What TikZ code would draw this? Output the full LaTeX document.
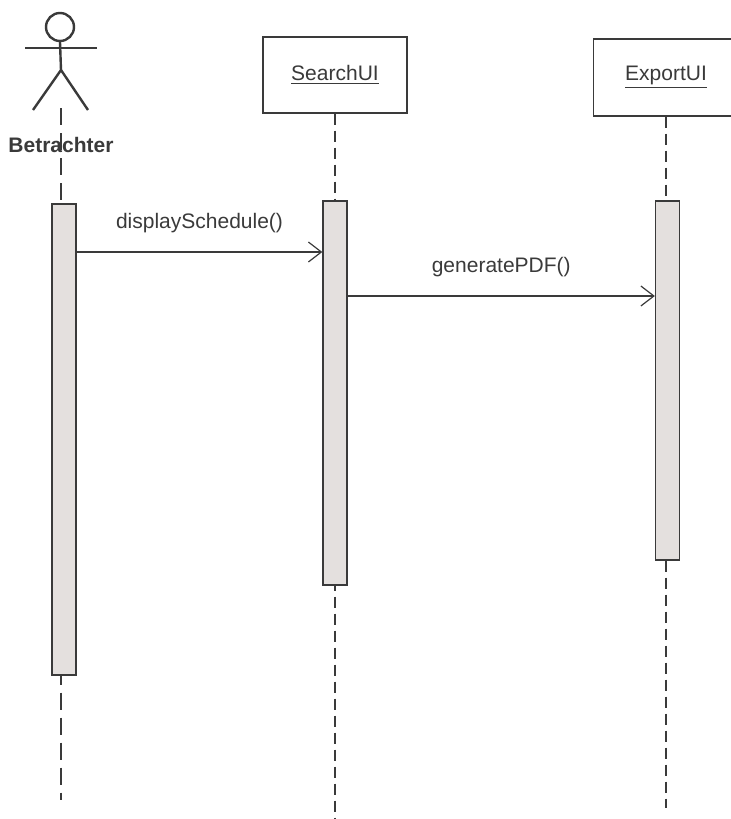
\documentclass[tikz,border=0pt]{standalone}
\usepackage{fontspec}
\setmainfont{Liberation Sans}
\usepackage{tikz}
\usetikzlibrary{arrows.meta}
\definecolor{linegray}{HTML}{3A3A3A}
\definecolor{bargray}{HTML}{E4E0DE}

\begin{document}
\begin{tikzpicture}[x=0.5pt, y=-0.5pt,
		font=\fontsize{10.5}{12.6}\selectfont, text=linegray,
		box_style/.style={rectangle,draw=linegray,line width=0.55pt,fill=white,inner sep=0pt},
		bar_style/.style={rectangle,draw=linegray,line width=0.65pt,fill=bargray,inner sep=0pt,minimum width=12pt},
		life_style/.style={draw=linegray,line width=0.6pt,dash pattern=on 5.5pt off 3pt},
		actor_life_style/.style={draw=linegray,line width=1pt,dash pattern=on 8.5pt off 4pt},
		figure_style/.style={draw=linegray,line width=1.2pt},
		msg_style/.style={draw=linegray,line width=0.6pt,-{Straight Barb[length=6.5pt,width=10pt]}}]

		\useasboundingbox (0,0) rectangle (731,819);
		\clip (0,0) rectangle (731,819);

		% actor
		\node[circle,figure_style,minimum size=14pt,inner sep=0pt] (head) at (60,27) {};
		\coordinate (neck) at (61,41);
		\coordinate (hip) at (61,70);
		\coordinate (handl) at (25,48);
		\coordinate (handr) at (97,48);
		\coordinate (footl) at (33,110);
		\coordinate (footr) at (88,110);
		\draw[figure_style] (head.south) -- (hip);
		\draw[figure_style] (handl) -- (handr);
		\draw[figure_style] (footl) -- (hip) -- (footr);
		\node[font=\fontsize{10.5}{12.6}\selectfont\bfseries] (betrachter) at (61,145) {Betrachter};

		% objects
		\node[box_style,minimum width=72pt,minimum height=38pt] (searchui) at (335,75) {\underline{SearchUI}};
		\node[box_style,minimum width=72.5pt,minimum height=38.5pt] (exportui) at (666,77.5) {\underline{ExportUI}};

		% activation bars
		\node[bar_style,minimum height=235.5pt] (bar_a) at (64,439.5) {};
		\node[bar_style,minimum height=192pt] (bar_s) at (335,393) {};
		\node[bar_style,minimum height=179.5pt] (bar_e) at (667.5,380.5) {};

		% lifelines
		\coordinate (top_a) at (61,108);
		\coordinate (end_a) at (61,800);
		\coordinate (end_s) at (335,819);
		\coordinate (end_e) at (666,808);
		\draw[actor_life_style] (top_a) -- (top_a |- bar_a.north);
		\draw[actor_life_style,dash phase=4pt] (top_a |- bar_a.south) -- (end_a);
		\draw[life_style] (searchui.south) -- (bar_s.north);
		\draw[life_style,dash phase=3pt] (bar_s.south) -- (end_s);
		\draw[life_style] (exportui.south -| end_e) -- (end_e |- bar_e.north);
		\draw[life_style] (end_e |- bar_e.south) -- (end_e);

		% messages
		\coordinate (m1) at (0,252);
		\coordinate (m2) at (0,296);
		\draw[msg_style] (bar_a.east |- m1) -- node[above=6pt]{displaySchedule()} (bar_s.west |- m1);
		\draw[msg_style] (bar_s.east |- m2) -- node[above=6pt]{generatePDF()} (bar_e.west |- m2);
\end{tikzpicture}
\end{document}
